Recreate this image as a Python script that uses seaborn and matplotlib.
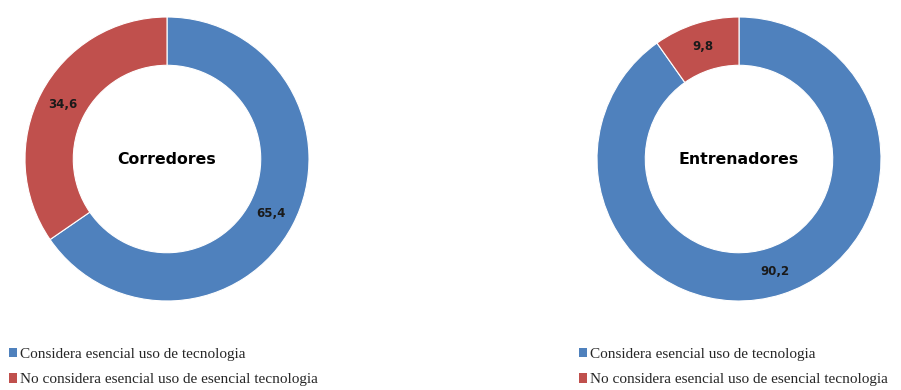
import matplotlib
matplotlib.use("Agg")
import matplotlib.pyplot as plt
from matplotlib.patches import Patch
import numpy as np
import seaborn as sns

sns.set_theme(style="white")
plt.rcParams['font.family'] = ['DejaVu Sans']

# Data
categories = ["Considera esencial uso de tecnologia",
              "No considera esencial uso de esencial tecnologia"]
groups = ["Corredores", "Entrenadores"]
corredores = [65.4, 34.6]
entrenadores = [90.2, 9.8]
value_labels = [["65,4", "34,6"], ["90,2", "9,8"]]

colors = ["#4F81BD", "#C0504D"]

W, H = 901, 390
fig = plt.figure(figsize=(W / 100, H / 100), dpi=100)
fig.patch.set_facecolor("white")

centers = [(167, 159), (739, 159)]
R = 142
ring = 0.34

for (cx, cy), name, vals, labs in zip(centers, groups, [corredores, entrenadores], value_labels):
    ax = fig.add_axes([(cx - R) / W, (H - cy - R) / H, 2 * R / W, 2 * R / H])
    wedges, _ = ax.pie(vals, colors=colors, startangle=90, counterclock=False,
                       radius=1, wedgeprops=dict(width=ring, edgecolor="white", linewidth=0.8))
    ax.set_xlim(-1, 1)
    ax.set_ylim(-1, 1)
    ax.set_aspect("equal")
    ax.axis("off")
    rmid = 1 - ring / 2
    for w, lab in zip(wedges, labs):
        ang = np.deg2rad((w.theta1 + w.theta2) / 2)
        ax.text(rmid * np.cos(ang), rmid * np.sin(ang), lab, ha="center", va="center",
                fontsize=8.5, fontweight="bold", color="#1a1a1a")
    ax.text(0, 0, name, ha="center", va="center", fontsize=11.3, fontweight="bold", color="black")

handles = [Patch(facecolor=c, edgecolor="none") for c in colors]
for x0 in [9, 579]:
    fig.legend(handles=handles, labels=categories, loc="center left",
               bbox_to_anchor=(x0 / W, 23 / H), frameon=False,
               prop={"family": "Liberation Serif", "size": 11},
               handlelength=0.55, handleheight=0.55, handletextpad=0.2,
               labelspacing=0.85, borderpad=0, borderaxespad=0)

fig.savefig("out.png", dpi=100, facecolor="white")
